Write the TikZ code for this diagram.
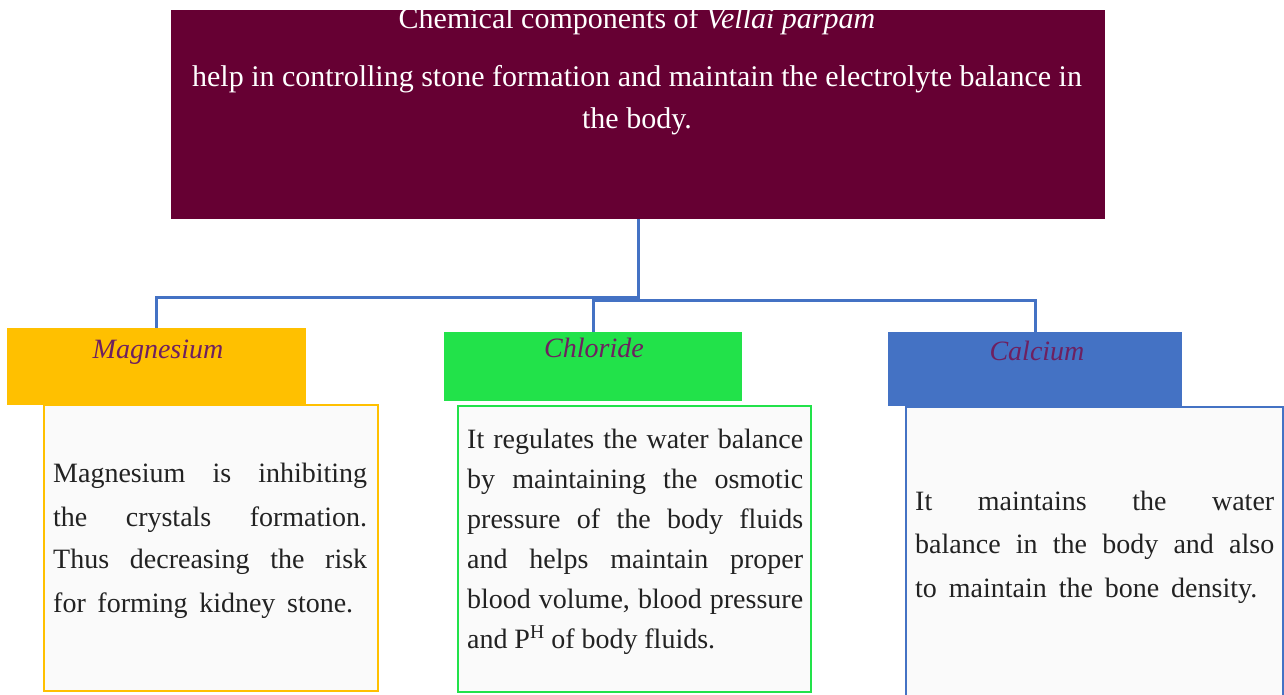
\documentclass[tikz,border=0pt]{standalone}
\usepackage{fontspec}
\setmainfont{Liberation Serif}
\definecolor{maroon}{HTML}{660033}
\definecolor{conncol}{HTML}{4472C4}
\definecolor{mgcol}{HTML}{FFC000}
\definecolor{clcol}{HTML}{22E24A}
\definecolor{cacol}{HTML}{4472C4}
\definecolor{labcol}{HTML}{6E2060}
\definecolor{bodyfill}{HTML}{FAFAFA}
\definecolor{txt}{HTML}{222222}
\newcommand{\jl}[2]{\makebox[#1][s]{#2}}
\begin{document}
\begin{tikzpicture}[x=1pt,y=-1pt,
  box/.style={rectangle,inner sep=0pt,anchor=north west},
  bodybox/.style={box,fill=bodyfill,line width=2pt},
  conn/.style={draw=conncol,line width=2.6pt},
  ttl/.style={inner sep=0pt,anchor=base,text=white,font=\fontsize{30}{34}\selectfont},
  lab/.style={inner sep=0pt,anchor=base,text=labcol,font=\fontsize{28}{32}\selectfont\itshape},
  bt/.style={inner sep=0pt,anchor=base west,text=txt,font=\fontsize{28}{32}\selectfont}]
\fill[white] (0,0) rectangle (1284,694);
\clip (0,0) rectangle (1284,694);
\useasboundingbox (0,0) rectangle (1284,694);
% title
\node[box,fill=maroon,minimum width=934pt,minimum height=209pt] (title) at (171,10) {};
\node[ttl] (t1) at (637,28) {Chemical components of \textit{Vellai parpam}};
\node[ttl] (t2) at (637,86) {help in controlling stone formation and maintain the electrolyte balance in};
\node[ttl] (t3) at (637,128) {the body.};
% bodies
\node[bodybox,draw=mgcol,minimum width=334pt,minimum height=286pt] (mgb) at (43,404) {};
\node[bodybox,draw=clcol,minimum width=353pt,minimum height=286pt] (clb) at (457,405) {};
\node[bodybox,draw=cacol,minimum width=377pt,minimum height=300pt] (cab) at (905,406) {};
% headers
\node[box,fill=mgcol,minimum width=299pt,minimum height=77pt] (mgh) at (7,328) {};
\node[box,fill=clcol,minimum width=298pt,minimum height=69pt] (clh) at (444,332) {};
\node[box,fill=cacol,minimum width=294pt,minimum height=74pt] (cah) at (888,332) {};
\node[lab] (mgl) at (158,358) {Magnesium};
\node[lab] (cll) at (594,357) {Chloride};
\node[lab] (cal) at (1037,360) {Calcium};
% connectors
\draw[conn] (title.south) -- ++(0,81) coordinate (hub);
\draw[conn] ([yshift=-78pt]title.south) -| (mgh.north);
\draw[conn] (hub) -| (clh.north);
\draw[conn] (hub) -| (cah.north);
% magnesium text
\node[bt] (m1) at (53,482) {\jl{314pt}{Magnesium is inhibiting}};
\node[bt] (m2) at (53,526) {\jl{314pt}{the crystals formation.}};
\node[bt] (m3) at (53,568) {\jl{314pt}{Thus decreasing the risk}};
\node[bt] (m4) at (53,612) {\jl{300pt}{for forming kidney stone.}};
% chloride text
\node[bt] (c1) at (467,448) {\jl{336pt}{It regulates the water balance}};
\node[bt] (c2) at (467,488) {\jl{336pt}{by maintaining the osmotic}};
\node[bt] (c3) at (467,528) {\jl{336pt}{pressure of the body fluids}};
\node[bt] (c4) at (467,568) {\jl{336pt}{and helps maintain proper}};
\node[bt] (c5) at (467,608) {\jl{336pt}{blood volume, blood pressure}};
\node[bt] (c6) at (467,648) {\jl{248pt}{and P\textsuperscript{H} of body fluids.}};
% calcium text
\node[bt] (a1) at (915,510) {\jl{359pt}{It maintains the water}};
\node[bt] (a2) at (915,553) {\jl{359pt}{balance in the body and also}};
\node[bt] (a3) at (915,597) {\jl{342pt}{to maintain the bone density.}};
\end{tikzpicture}
\end{document}
